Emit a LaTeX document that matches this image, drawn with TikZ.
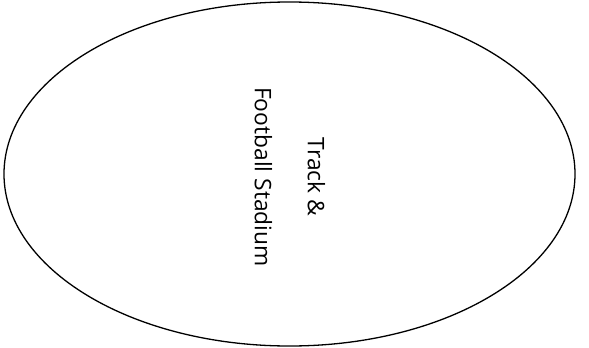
\documentclass[tikz,border=0pt]{standalone}
\usepackage{fontspec}
\setmainfont{Open Sans}
\tikzset{
  stadium/.style={draw=black, line width=1.3pt},
  label/.style={font=\fontsize{22.8}{53}\selectfont, align=center, rotate=-90, inner sep=0pt}
}
\begin{document}
\begin{tikzpicture}[x=1pt,y=-1pt]
\useasboundingbox (0,0) rectangle (589,348);
\draw[stadium] (289.5,174) ellipse [x radius=285.5, y radius=172];
\node[label] (txt) at (290,177) {Track \&\\Football Stadium};
\end{tikzpicture}
\end{document}
